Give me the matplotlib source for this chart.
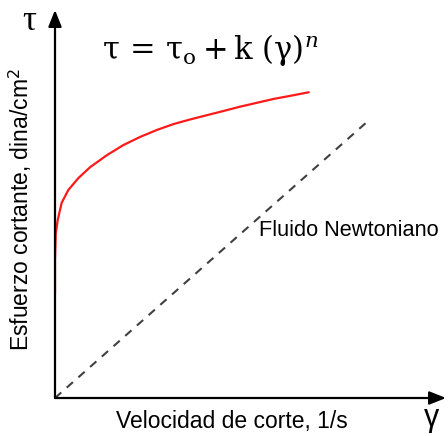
import matplotlib
matplotlib.use("Agg")
from matplotlib import pyplot as plt

plt.rcParams['font.family'] = ['Liberation Sans', 'DejaVu Sans']
plt.rcParams['mathtext.fontset'] = 'custom'
plt.rcParams['mathtext.rm'] = 'DejaVu Serif'
plt.rcParams['mathtext.it'] = 'DejaVu Serif:italic'

# shear rate vs shear stress (arbitrary units)
gamma_hb = [0, 0, 0.02, 0.07, 0.17, 0.34, 0.60, 0.90, 1.33, 1.75, 2.18, 2.61,
            3.03, 3.46, 3.89, 4.32, 4.74, 5.17, 5.60, 6.03, 6.49]
tau_hb = [2.71, 3.56, 4.25, 4.59, 5.03, 5.36, 5.67, 5.95, 6.26, 6.52, 6.73, 6.91,
          7.06, 7.18, 7.29, 7.40, 7.51, 7.61, 7.71, 7.79, 7.88]

gamma_newt = [0, 8.03]
tau_newt = [0, 7.16]

W, H = 448, 436
fig = plt.figure(figsize=(W / 100, H / 100), dpi=100)
ax = fig.add_axes([55 / W, (H - 398) / H, (446 - 55) / W, (398 - 10) / H])
ax.set_xlim(0, 10)
ax.set_ylim(0, 10)
ax.axis('off')

ax.plot(gamma_hb, tau_hb, color='#ff1a1a', lw=1.6, solid_capstyle='round',
        solid_joinstyle='round')
ax.plot(gamma_newt, tau_newt, color='#404040', lw=1.5, dashes=(4, 3.5))

# axes with arrow heads
arrow = dict(arrowstyle='-|>,head_length=1.0,head_width=0.4', color='black', lw=1.6,
             shrinkA=0, shrinkB=0)
ax.annotate('', xy=(1, 0), xytext=(0, 0), xycoords='axes fraction', arrowprops=arrow)
ax.annotate('', xy=(0, 1), xytext=(0, 0), xycoords='axes fraction', arrowprops=arrow)

def px(x, y):
    return x / W, 1 - y / H

fig.text(*px(29, 22), 'τ', fontsize=25, family='Liberation Serif', ha='center', va='center')
fig.text(*px(432, 418), 'γ', fontsize=22, ha='center', va='center')
fig.text(*px(210, 50), r'$\mathrm{\tau\,=\,\tau_o + k\ (\gamma)}^{n}$',
         fontsize=22, ha='center', va='center')
fig.text(*px(349, 230), 'Fluido Newtoniano', fontsize=15.7, ha='center', va='center')
fig.text(*px(232, 421), 'Velocidad de corte, 1/s', fontsize=16.5, ha='center', va='center')
fig.text(*px(20, 210), 'Esfuerzo cortante, dina/cm$^\\mathsf{2}$', fontsize=16.5, rotation=90,
         ha='center', va='center')

fig.savefig('out.png', dpi=100)
